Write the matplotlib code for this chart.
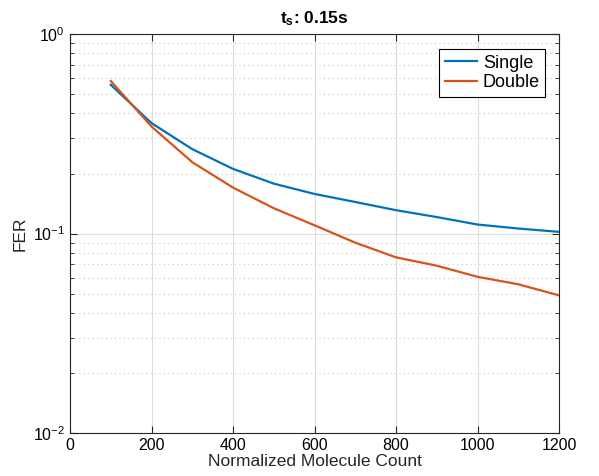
import numpy as np
import matplotlib.pyplot as plt
from matplotlib.ticker import LogLocator, NullFormatter

plt.rcParams['font.family'] = ['Liberation Sans', 'DejaVu Sans']
plt.rcParams['mathtext.fontset'] = 'custom'
plt.rcParams['mathtext.rm'] = 'Liberation Sans'
plt.rcParams['mathtext.bf'] = 'Liberation Sans:bold'

# data
counts = [100, 200, 300, 400, 500, 600, 700, 800, 900, 1000, 1100, 1200]
fer_single = [0.557, 0.358, 0.265, 0.211, 0.178, 0.158, 0.144, 0.131, 0.121, 0.111, 0.106, 0.102]
fer_double = [0.582, 0.344, 0.228, 0.170, 0.134, 0.110, 0.090, 0.076, 0.069, 0.0607, 0.0557, 0.049]

fig = plt.figure(figsize=(5.99, 4.76), dpi=100)
ax = fig.add_axes([0.1169, 0.0903, 0.8164, 0.838])

ax.plot(counts, fer_single, color=(0, 0.447, 0.741), lw=1.6, label="Single")
ax.plot(counts, fer_double, color=(0.85, 0.325, 0.098), lw=1.6, label="Double")

ax.set_yscale('log')
ax.set_xlim(0, 1200)
ax.set_ylim(1e-2, 1)
ax.set_xticks(np.arange(0, 1201, 200))
ax.yaxis.set_minor_locator(LogLocator(base=10, subs=np.arange(2, 10)))
ax.yaxis.set_minor_formatter(NullFormatter())

ax.grid(True, which='major', color='#dcdcdc', lw=0.8)
ax.grid(True, which='minor', axis='y', color='#c8c8c8', ls=(0, (1, 3)), lw=0.8)
ax.set_axisbelow(True)

ax.tick_params(which='both', direction='in', top=True, right=True, labelsize=11.5, color='#262626')
ax.tick_params(which='major', length=5)
ax.tick_params(which='minor', length=3)
for s in ax.spines.values():
    s.set_color('#262626')
    s.set_linewidth(0.8)

ax.set_xlabel("Normalized Molecule Count", fontsize=12.5, labelpad=1, color='#262626')
ax.set_ylabel("FER", fontsize=12.5, color='#262626')
ax.set_title(r"$\mathbf{t_s}$: 0.15s", fontsize=12.5, fontweight='bold', pad=8)

leg = ax.legend(loc='upper right', fontsize=13, fancybox=False, framealpha=1,
                edgecolor='black', bbox_to_anchor=(0.972, 0.962), borderaxespad=0,
                handlelength=1.8, borderpad=0.3, labelspacing=0.15, handletextpad=0.3)
leg.get_frame().set_linewidth(0.8)

fig.savefig("out.png", dpi=100)
